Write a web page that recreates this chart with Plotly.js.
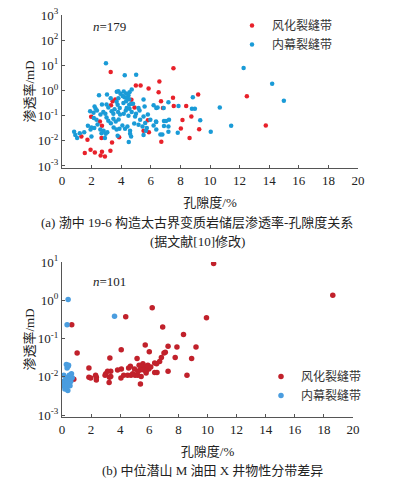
<!DOCTYPE html>
<html><head><meta charset="utf-8">
<script src="https://cdn.plot.ly/plotly-3.0.1.min.js"></script>
<style>html,body{margin:0;padding:0;background:#fff}#c{width:393px;height:483px}</style>
</head><body><div id="c"></div>
<script>
// ---------- (a) 渤中 19-6 ----------
const aRedPhi = [3.29,7.53,6.58,4.99,5.31,5.85,6.53,9.2,12.49,3.6,4.69,7.5,6.69,3.42,3.31,4.9,7.55,8.39,6.82,1.97,8.74,8.14,2.56,5.8,2.7,13.77,8.03,9.27,5.51,5.87,1.31,1.72,2.67,8.62,3.38,6.71,1.54,1.93,2.22,2.7,3.27,2.61,2.9,3.86];
const aRedK   = [5.4,7.6,2.3,1.58,1.58,1.2,0.86,0.69,0.59,0.44,0.43,0.52,0.37,0.37,0.26,0.21,0.24,0.24,0.2,0.091,0.092,0.067,0.058,0.065,0.04,0.041,0.031,0.029,0.025,0.022,0.015,0.011,0.013,0.013,0.0085,0.0091,0.0033,0.0044,0.0034,0.0037,0.004,0.0026,0.0024,0.014];
const aBluePhi = [12.27,14.2,14.99,8.84,10.66,11.43,10.05,7.19,7.87,6.19,6.37,6.46,6.87,8.78,8.98,7.23,6.89,7.03,9.34,6.37,6.19,6.89,7.19,6.37,7.19,6.65,6.78,7.82,
  2.97,4.24,5.01,2.5,3.7,4.17,4.33,4.49,4.56,4.71,3.81,3.95,3.29,3.81,3.69,4.22,4.4,4.54,2.7,2.2,2.27,3.01,3.13,3.76,4.15,4.33,4.54,4.67,4.37,4.56,5.24,5.58,
  1.9,2.13,2.36,2.79,2.93,3.35,3.47,3.79,3.92,4.17,4.31,4.49,4.71,4.94,5.28,5.51,5.8,2.15,2.33,3.01,3.13,3.47,3.63,3.83,1.99,2.18,2.59,2.67,2.81,2.95,3.06,3.49,3.69,3.88,
  4.08,4.26,4.42,4.6,4.6,4.67,4.88,5.17,5.44,5.73,5.62,5.97,6.35,0.82,0.9,1.02,1.5,1.99,2.9,3.76,4.51,5.51,5.67,3.04,5.17,5.51,1.93,
  1.2,1.75,2.4,3.3,3.9,4.1,4.8,5.0,2.6,3.55];
const aBlueK = [7.8,1.85,0.39,0.54,0.21,0.04,0.023,0.34,0.24,0.26,0.2,0.21,0.2,0.19,0.19,0.069,0.061,0.061,0.065,0.056,0.041,0.039,0.037,0.028,0.023,0.018,0.018,0.021,
  12,4.0,4.2,0.65,0.89,0.91,0.76,0.63,0.85,1.1,0.93,0.75,0.49,0.49,0.36,0.54,0.51,0.45,0.28,0.23,0.19,0.28,0.21,0.27,0.32,0.37,0.27,0.3,0.2,0.19,0.16,0.23,
  0.15,0.13,0.16,0.14,0.12,0.15,0.12,0.14,0.11,0.12,0.16,0.1,0.14,0.093,0.069,0.093,0.11,0.081,0.069,0.085,0.063,0.076,0.059,0.071,0.034,0.032,0.028,0.02,0.025,0.019,0.022,0.034,0.028,0.03,
  0.041,0.03,0.037,0.025,0.019,0.015,0.049,0.044,0.037,0.032,0.051,0.069,0.059,0.023,0.017,0.013,0.022,0.015,0.013,0.016,0.0089,0.017,0.025,0.69,0.2,0.44,0.028,
  0.02,0.04,0.045,0.05,0.2,0.6,0.3,0.12,0.11,0.18];

// ---------- (b) 中位潜山 M 油田 ----------
const bRedPhi = [10.42,18.61,6.2,4.38,0.67,9.93,6.92,8.35,1.04,4.07,5.72,3.29,5.16,7.29,7.9,9.21,7.01,7.1,6.83,7.78,8.91,6.71,6.5,6.37,1.85,5.56,5.72,5.85,5.97,5.44,5.63,5.78,4.58,4.98,5.37,4.08,3.82,3.35,3.13,3.01,6.53,7.29,8.59,2.31,2.36,2.36,1.85,1.97,2.96,3.26,3.24,4.05,4.24,4.51,4.74,5.02,5.21,5.39,0.81,4.86,6.37,3.35,5.21,5.78,5.44,5.9,6.1,5.3,4.7,6.0];
const bRedK   = [9.1,1.35,0.64,0.37,0.23,0.35,0.2,0.128,0.042,0.051,0.068,0.031,0.03,0.063,0.06,0.06,0.042,0.044,0.032,0.032,0.03,0.025,0.022,0.023,0.017,0.022,0.019,0.017,0.016,0.018,0.015,0.014,0.017,0.016,0.015,0.016,0.015,0.014,0.014,0.012,0.013,0.014,0.011,0.011,0.0098,0.0083,0.0098,0.0093,0.011,0.0098,0.0071,0.0093,0.011,0.011,0.011,0.011,0.011,0.0065,0.0087,0.012,0.013,0.0102,0.014,0.0125,0.0102,0.02,0.018,0.02,0.019,0.045];
const bBluePhi = [0.42,0.35,3.61,0.3,0.42,0.35,0.45,0.12,0.3,0.5,0.4,0.55,0.2,0.0,0.15,0.35,0.6,0.25,0.45,0.1,0.3,0.2,0.4,0.55,0.7,0.65];
const bBlueK   = [1.05,0.23,0.38,0.021,0.019,0.017,0.02,0.011,0.0095,0.011,0.009,0.0085,0.008,0.0075,0.0068,0.007,0.0075,0.0062,0.0065,0.0058,0.0055,0.0048,0.0044,0.0058,0.0095,0.012];

const seriesNames = ['风化裂缝带','内幕裂缝带'];
const decadesA = [0.001,0.01,0.1,1,10,100,1000];
const decadesB = [0.001,0.01,0.1,1,10];
const xTicks = [0,2,4,6,8,10,12,14,16,18,20];
const supText = v => '10<sup>' + Math.round(Math.log10(v)) + '</sup>';

const W = 393, H = 483;
const px = v => v / W, py = v => 1 - v / H;

const serif = 'Liberation Serif, Times New Roman, serif';
const cjk = 'Liberation Serif, Noto Sans CJK SC, serif';

const traces = [
  {x:aRedPhi, y:aRedK, name:seriesNames[0], type:'scatter', mode:'markers', xaxis:'x', yaxis:'y', legend:'legend',
   marker:{color:'#e8212a', size:4.5}},
  {x:aBluePhi, y:aBlueK, name:seriesNames[1], type:'scatter', mode:'markers', xaxis:'x', yaxis:'y', legend:'legend',
   marker:{color:'#1a9bd7', size:4.5}},
  {x:bRedPhi, y:bRedK, name:seriesNames[0], type:'scatter', mode:'markers', xaxis:'x2', yaxis:'y2', legend:'legend2',
   marker:{color:'#c1212b', size:5.5}},
  {x:bBluePhi, y:bBlueK, name:seriesNames[1], type:'scatter', mode:'markers', xaxis:'x2', yaxis:'y2', legend:'legend2',
   marker:{color:'#4a9ddf', size:5.5}}
];

const axCommon = {
  showline:true, linecolor:'#555', linewidth:1, showgrid:false, zeroline:false,
  ticks:'inside', ticklen:3, tickcolor:'#555', tickfont:{family:serif, size:13, color:'#222'}
};

const layout = {
  width:W, height:H, margin:{l:0,r:0,t:0,b:0}, paper_bgcolor:'#fff', plot_bgcolor:'#fff',
  showlegend:true,
  xaxis: Object.assign({}, axCommon, {domain:[px(62), px(358)], range:[0,20], anchor:'y', tickvals:xTicks,
    title:{text:'孔隙度/%', font:{family:cjk, size:13, color:'#222'}, standoff:11}}),
  yaxis: Object.assign({}, axCommon, {domain:[py(168), py(15)], type:'log', range:[-3.08,3.0], anchor:'x',
    tickvals:decadesA, ticktext:decadesA.map(supText),
    title:{text:'渗透率/mD', font:{family:cjk, size:13, color:'#222'}, standoff:0}}),
  xaxis2: Object.assign({}, axCommon, {domain:[px(62), px(353)], range:[0,20], anchor:'y2', tickvals:xTicks,
    title:{text:'孔隙度/%', font:{family:cjk, size:13, color:'#222'}, standoff:11}}),
  yaxis2: Object.assign({}, axCommon, {domain:[py(417), py(262)], type:'log', range:[-3.05,1.0], anchor:'x2',
    tickvals:decadesB, ticktext:decadesB.map(supText),
    title:{text:'渗透率/mD', font:{family:cjk, size:13, color:'#222'}, standoff:0}}),
  legend:{x:px(232), y:py(11), xanchor:'left', yanchor:'top', bgcolor:'rgba(0,0,0,0)',
    font:{family:cjk, size:12, color:'#333'}, itemwidth:30, tracegroupgap:0},
  legend2:{x:px(261), y:py(362), xanchor:'left', yanchor:'top', bgcolor:'rgba(0,0,0,0)',
    font:{family:cjk, size:12, color:'#333'}, itemwidth:30, tracegroupgap:0},
  annotations:[
    {xref:'paper', yref:'paper', x:px(91), y:py(27), xanchor:'left', yanchor:'middle', showarrow:false,
     text:'<i>n</i>=179', font:{family:serif, size:13, color:'#222'}},
    {xref:'paper', yref:'paper', x:px(91), y:py(281), xanchor:'left', yanchor:'middle', showarrow:false,
     text:'<i>n</i>=101', font:{family:serif, size:13, color:'#222'}},
    {xref:'paper', yref:'paper', x:px(197), y:py(222), xanchor:'center', yanchor:'middle', showarrow:false,
     text:'(a) 渤中 19-6 构造太古界变质岩储层渗透率-孔隙度关系', font:{family:cjk, size:13, color:'#222'}},
    {xref:'paper', yref:'paper', x:px(197), y:py(241), xanchor:'center', yanchor:'middle', showarrow:false,
     text:'(据文献[10]修改)', font:{family:cjk, size:13, color:'#222'}},
    {xref:'paper', yref:'paper', x:px(212), y:py(470), xanchor:'center', yanchor:'middle', showarrow:false,
     text:'(b) 中位潜山 M 油田 X 井物性分带差异', font:{family:cjk, size:13, color:'#222'}}
  ]
};

Plotly.newPlot('c', traces, layout, {displayModeBar:false, staticPlot:true});
</script></body></html>
